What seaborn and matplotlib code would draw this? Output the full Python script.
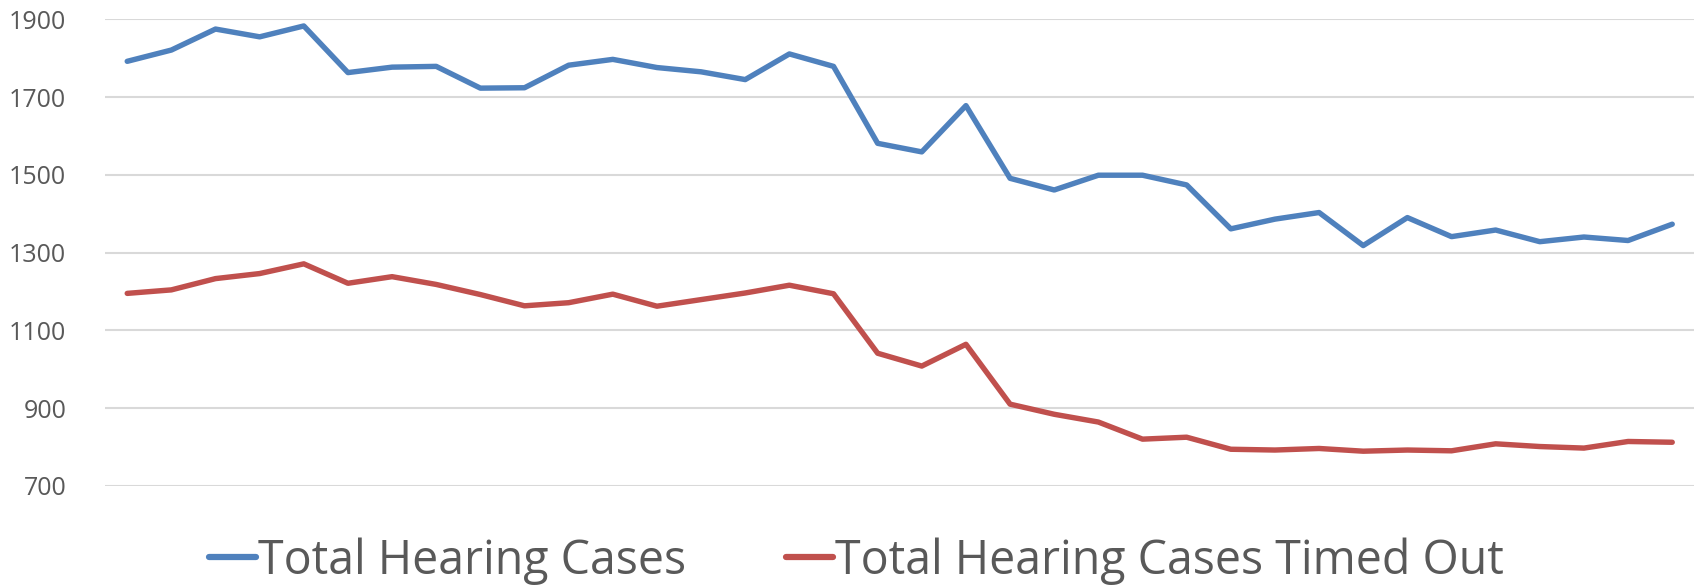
import matplotlib
matplotlib.use("Agg")
import matplotlib.pyplot as plt
import seaborn as sns
import pandas as pd

# values (36 periods)
periods = list(range(36))
total_cases = [1792, 1821, 1875, 1855, 1883, 1763, 1777, 1779, 1723, 1724,
               1782, 1797, 1776, 1765, 1745, 1811, 1779, 1581, 1559, 1678,
               1491, 1461, 1499, 1499, 1474, 1361, 1386, 1403, 1318, 1390,
               1341, 1358, 1328, 1340, 1331, 1373]
timed_out = [1195, 1204, 1233, 1246, 1271, 1221, 1238, 1218, 1192, 1163,
             1171, 1193, 1162, 1179, 1196, 1216, 1194, 1041, 1008, 1064,
             910, 884, 864, 820, 825, 794, 792, 796, 789, 792,
             790, 808, 801, 797, 814, 812]
series_names = ["Total Hearing Cases", "Total Hearing Cases Timed Out"]
y_ticks = [700, 900, 1100, 1300, 1500, 1700, 1900]

df = pd.DataFrame({
    "period": periods * 2,
    "value": total_cases + timed_out,
    "series": [series_names[0]] * 36 + [series_names[1]] * 36,
})

sns.set_theme(style="white")
plt.rcParams["font.family"] = ["Open Sans", "DejaVu Sans"]

fig = plt.figure(figsize=(16.96, 5.86), dpi=100)
ax = fig.add_axes([0.062, 0.171, 0.937, 0.796])

sns.lineplot(data=df, x="period", y="value", hue="series",
             palette=["#4F81BD", "#C0504D"], linewidth=3.9, ax=ax,
             legend=True)

ax.set_xlim(-0.5, 35.5)
ax.set_ylim(700, 1900)
ax.set_yticks(y_ticks)
ax.set_yticklabels([str(t) for t in y_ticks])
ax.set_xticks([])
ax.set_xlabel("")
ax.set_ylabel("")
ax.grid(axis="y", color="#D9D9D9", linewidth=1.5)
ax.set_axisbelow(True)
for s in ax.spines.values():
    s.set_visible(False)
ax.tick_params(axis="y", length=0, pad=28, labelsize=18, labelcolor="#595959")

handles, labels = ax.get_legend_handles_labels()
leg = ax.legend(handles, labels, loc="center",
                bbox_to_anchor=(0.505, 0.043), bbox_transform=fig.transFigure,
                ncol=2, frameon=False, fontsize=33.5, handlelength=1.0,
                handletextpad=0.05, columnspacing=2.15, borderaxespad=0)
for t in leg.get_texts():
    t.set_color("#595959")
for h in leg.get_lines():
    h.set_linewidth(4.5)

fig.savefig("out.png", dpi=100)
